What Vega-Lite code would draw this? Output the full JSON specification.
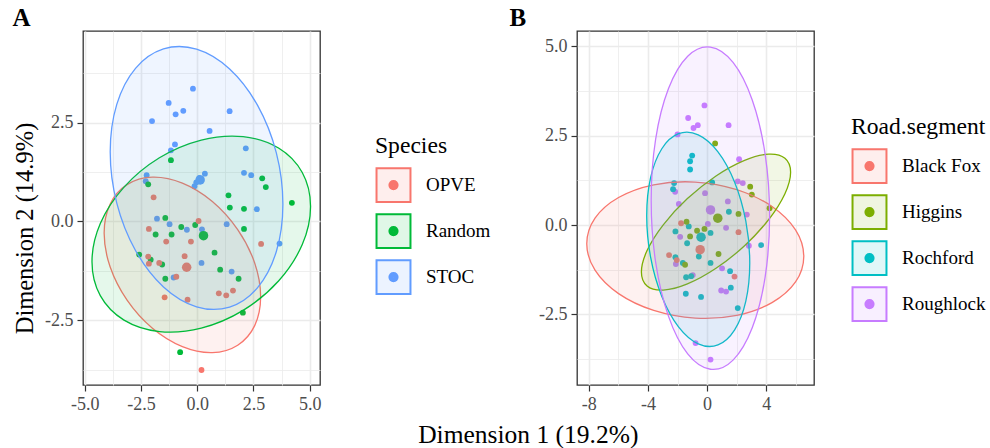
{
  "$schema": "https://vega.github.io/schema/vega-lite/v6.json",
  "background": "white",
  "padding": {"left": 11, "top": 5, "right": 0, "bottom": 0},
  "title": {"text": "Dimension 1 (19.2%)", "orient": "bottom", "anchor": "middle", "fontSize": 25.5, "font": "Liberation Serif", "fontWeight": "normal", "color": "black", "offset": 9, "dx": 29},
  "config": {
    "font": "Liberation Serif",
    "view": {"stroke": "#333333", "strokeWidth": 1.3},
    "axis": {"domain": false, "gridColor": "#EBEBEB", "tickColor": "#333333", "tickSize": 6, "tickWidth": 1.2, "labelFont": "Liberation Serif", "labelFontSize": 18, "labelColor": "#4D4D4D", "labelPadding": 4, "labelOverlap": false, "labelFlush": false, "labelBound": false, "titleFont": "Liberation Serif", "titleFontSize": 24.5, "titleFontWeight": "normal", "titleColor": "black"},
    "legend": {"padding": 0, "titleFont": "Liberation Serif", "titleFontSize": 23.6, "titleFontWeight": "normal", "titleColor": "black", "labelFont": "Liberation Serif", "labelFontSize": 19, "labelColor": "black", "labelOffset": 14, "rowPadding": 3, "titlePadding": 9, "symbolSize": 1225, "symbolStrokeWidth": 2, "symbolOpacity": 1,
      "symbolType": "M-0.97,-0.97H0.97V0.97H-0.97Z M0.234,0A0.234,0.234 0 1,1 -0.234,0A0.234,0.234 0 1,1 0.234,0Z M0.149,0A0.149,0.149 0 1,1 -0.149,0A0.149,0.149 0 1,1 0.149,0Z M0.063,0A0.063,0.063 0 1,1 -0.063,0A0.063,0.063 0 1,1 0.063,0Z"},
    "concat": {"spacing": 16}
  },
  "datasets": {
    "ptsA": [
      {"g":"STOC","d1":-0.19,"d2":3.36},{"g":"STOC","d1":-1.27,"d2":3.0},{"g":"STOC","d1":-0.96,"d2":2.71},{"g":"STOC","d1":-0.62,"d2":2.8},{"g":"STOC","d1":-2.01,"d2":2.54},{"g":"STOC","d1":1.44,"d2":2.79},{"g":"STOC","d1":0.55,"d2":2.29},{"g":"STOC","d1":-0.99,"d2":1.95},{"g":"STOC","d1":-1.17,"d2":1.8},{"g":"STOC","d1":2.16,"d2":1.85},{"g":"STOC","d1":2.08,"d2":1.23},{"g":"STOC","d1":2.4,"d2":1.17},{"g":"STOC","d1":-2.25,"d2":1.17},{"g":"STOC","d1":-2.29,"d2":1.02},{"g":"STOC","d1":0.34,"d2":1.21},{"g":"STOC","d1":-0.04,"d2":0.99},{"g":"STOC","d1":-0.12,"d2":0.89},{"g":"STOC","d1":0.1,"d2":1.1},{"g":"STOC","d1":2.65,"d2":0.31},{"g":"STOC","d1":-1.79,"d2":0.07},{"g":"STOC","d1":-1.23,"d2":-0.07},{"g":"STOC","d1":-0.46,"d2":-0.21},{"g":"STOC","d1":0.21,"d2":-0.2},{"g":"STOC","d1":1.31,"d2":-0.07},{"g":"STOC","d1":3.66,"d2":-0.56},{"g":"STOC","d1":0.19,"d2":-1.05},{"g":"STOC","d1":1.53,"d2":-1.27},{"g":"STOC","d1":-1.05,"d2":-1.42},
      {"g":"Random","d1":-1.17,"d2":1.55},{"g":"Random","d1":-2.18,"d2":0.94},{"g":"Random","d1":2.89,"d2":1.09},{"g":"Random","d1":3.05,"d2":0.87},{"g":"Random","d1":1.39,"d2":0.66},{"g":"Random","d1":1.45,"d2":0.35},{"g":"Random","d1":2.08,"d2":0.32},{"g":"Random","d1":4.21,"d2":0.47},{"g":"Random","d1":-1.42,"d2":0.09},{"g":"Random","d1":-0.71,"d2":-0.14},{"g":"Random","d1":-0.09,"d2":-0.09},{"g":"Random","d1":2.08,"d2":-0.19},{"g":"Random","d1":-1.85,"d2":-0.33},{"g":"Random","d1":-1.14,"d2":-0.33},{"g":"Random","d1":0.77,"d2":-0.79},{"g":"Random","d1":-2.58,"d2":-0.84},{"g":"Random","d1":-2.07,"d2":-0.97},{"g":"Random","d1":-1.56,"d2":-1.09},{"g":"Random","d1":1.02,"d2":-1.22},{"g":"Random","d1":-1.42,"d2":-1.45},{"g":"Random","d1":1.84,"d2":-1.45},{"g":"Random","d1":2.03,"d2":-2.31},{"g":"Random","d1":-0.76,"d2":-3.31},
      {"g":"OPVE","d1":-1.94,"d2":0.61},{"g":"OPVE","d1":0.06,"d2":0.01},{"g":"OPVE","d1":-2.15,"d2":-0.19},{"g":"OPVE","d1":-1.38,"d2":-0.51},{"g":"OPVE","d1":-0.28,"d2":-0.51},{"g":"OPVE","d1":2.84,"d2":-0.57},{"g":"OPVE","d1":-0.56,"d2":-0.88},{"g":"OPVE","d1":-2.18,"d2":-0.89},{"g":"OPVE","d1":-2.15,"d2":-1.07},{"g":"OPVE","d1":-1.69,"d2":-1.05},{"g":"OPVE","d1":-0.93,"d2":-1.4},{"g":"OPVE","d1":0.96,"d2":-1.82},{"g":"OPVE","d1":1.29,"d2":-1.87},{"g":"OPVE","d1":1.59,"d2":-1.75},{"g":"OPVE","d1":-1.45,"d2":-1.92},{"g":"OPVE","d1":-0.43,"d2":-1.98},{"g":"OPVE","d1":0.19,"d2":-3.76}
    ],
    "cenA": [
      {"g":"OPVE","d1":-0.47,"d2":-1.16},{"g":"Random","d1":0.28,"d2":-0.36},{"g":"STOC","d1":0.13,"d2":1.05}
    ],
    "ellA": [
      {"g":"OPVE","k":0,"d1":2.82,"d2":-1.905},{"g":"OPVE","k":1,"d1":2.555,"d2":-1.051},{"g":"OPVE","k":2,"d1":1.8,"d2":-0.206},{"g":"OPVE","k":3,"d1":0.673,"d2":0.505},{"g":"OPVE","k":4,"d1":-0.66,"d2":0.97},{"g":"OPVE","k":5,"d1":-1.993,"d2":1.121},{"g":"OPVE","k":6,"d1":-3.12,"d2":0.932},{"g":"OPVE","k":7,"d1":-3.875,"d2":0.437},{"g":"OPVE","k":8,"d1":-4.14,"d2":-0.295},{"g":"OPVE","k":9,"d1":-3.875,"d2":-1.149},{"g":"OPVE","k":10,"d1":-3.12,"d2":-1.994},{"g":"OPVE","k":11,"d1":-1.993,"d2":-2.705},{"g":"OPVE","k":12,"d1":-0.66,"d2":-3.17},{"g":"OPVE","k":13,"d1":0.673,"d2":-3.321},{"g":"OPVE","k":14,"d1":1.8,"d2":-3.132},{"g":"OPVE","k":15,"d1":2.555,"d2":-2.637},
      {"g":"Random","k":0,"d1":5.04,"d2":0.38},{"g":"Random","k":1,"d1":4.671,"d2":1.239},{"g":"Random","k":2,"d1":3.616,"d2":1.858},{"g":"Random","k":3,"d1":2.041,"d2":2.147},{"g":"Random","k":4,"d1":0.18,"d2":2.06},{"g":"Random","k":5,"d1":-1.681,"d2":1.611},{"g":"Random","k":6,"d1":-3.256,"d2":0.868},{"g":"Random","k":7,"d1":-4.311,"d2":-0.055},{"g":"Random","k":8,"d1":-4.68,"d2":-1.02},{"g":"Random","k":9,"d1":-4.311,"d2":-1.879},{"g":"Random","k":10,"d1":-3.256,"d2":-2.498},{"g":"Random","k":11,"d1":-1.681,"d2":-2.787},{"g":"Random","k":12,"d1":0.18,"d2":-2.7},{"g":"Random","k":13,"d1":2.041,"d2":-2.251},{"g":"Random","k":14,"d1":3.616,"d2":-1.508},{"g":"Random","k":15,"d1":4.671,"d2":-0.585},
      {"g":"STOC","k":0,"d1":3.81,"d2":0.436},{"g":"STOC","k":1,"d1":3.518,"d2":1.736},{"g":"STOC","k":2,"d1":2.685,"d2":2.936},{"g":"STOC","k":3,"d1":1.441,"d2":3.858},{"g":"STOC","k":4,"d1":-0.03,"d2":4.36},{"g":"STOC","k":5,"d1":-1.501,"d2":4.366},{"g":"STOC","k":6,"d1":-2.745,"d2":3.874},{"g":"STOC","k":7,"d1":-3.578,"d2":2.962},{"g":"STOC","k":8,"d1":-3.87,"d2":1.764},{"g":"STOC","k":9,"d1":-3.578,"d2":0.464},{"g":"STOC","k":10,"d1":-2.745,"d2":-0.736},{"g":"STOC","k":11,"d1":-1.501,"d2":-1.658},{"g":"STOC","k":12,"d1":-0.03,"d2":-2.16},{"g":"STOC","k":13,"d1":1.441,"d2":-2.166},{"g":"STOC","k":14,"d1":2.685,"d2":-1.674},{"g":"STOC","k":15,"d1":3.518,"d2":-0.762}
    ],
    "ptsB": [
      {"g":"Roughlock","d1":-0.18,"d2":3.34},{"g":"Roughlock","d1":-1.28,"d2":2.99},{"g":"Roughlock","d1":-0.63,"d2":2.79},{"g":"Roughlock","d1":-0.92,"d2":2.71},{"g":"Roughlock","d1":1.45,"d2":2.79},{"g":"Roughlock","d1":-2.0,"d2":2.53},{"g":"Roughlock","d1":2.16,"d2":1.84},{"g":"Roughlock","d1":2.07,"d2":1.22},{"g":"Roughlock","d1":2.41,"d2":1.17},{"g":"Roughlock","d1":-2.16,"d2":0.93},{"g":"Roughlock","d1":-0.14,"d2":0.89},{"g":"Roughlock","d1":1.4,"d2":0.66},{"g":"Roughlock","d1":-1.91,"d2":0.59},{"g":"Roughlock","d1":2.68,"d2":0.29},{"g":"Roughlock","d1":0.05,"d2":0.03},{"g":"Roughlock","d1":1.28,"d2":-0.08},{"g":"Roughlock","d1":-1.82,"d2":-0.33},{"g":"Roughlock","d1":2.82,"d2":-0.58},{"g":"Roughlock","d1":-2.11,"d2":-1.09},{"g":"Roughlock","d1":-0.97,"d2":-1.4},{"g":"Roughlock","d1":1.01,"d2":-1.21},{"g":"Roughlock","d1":0.95,"d2":-1.83},{"g":"Roughlock","d1":1.28,"d2":-1.86},{"g":"Roughlock","d1":-0.78,"d2":-3.3},{"g":"Roughlock","d1":0.23,"d2":-3.76},
      {"g":"Rochford","d1":-1.01,"d2":1.94},{"g":"Rochford","d1":-1.15,"d2":1.78},{"g":"Rochford","d1":-1.15,"d2":1.55},{"g":"Rochford","d1":-2.23,"d2":1.17},{"g":"Rochford","d1":-2.3,"d2":1.0},{"g":"Rochford","d1":0.34,"d2":1.19},{"g":"Rochford","d1":1.47,"d2":0.37},{"g":"Rochford","d1":-1.24,"d2":-0.04},{"g":"Rochford","d1":-2.14,"d2":-0.18},{"g":"Rochford","d1":0.23,"d2":-0.22},{"g":"Rochford","d1":-1.35,"d2":-0.51},{"g":"Rochford","d1":3.65,"d2":-0.56},{"g":"Rochford","d1":-0.56,"d2":-0.88},{"g":"Rochford","d1":0.23,"d2":-1.06},{"g":"Rochford","d1":-1.64,"d2":-1.06},{"g":"Rochford","d1":-2.14,"d2":-0.9},{"g":"Rochford","d1":1.55,"d2":-1.29},{"g":"Rochford","d1":-1.42,"d2":-1.46},{"g":"Rochford","d1":-1.08,"d2":-1.43},{"g":"Rochford","d1":1.6,"d2":-1.75},{"g":"Rochford","d1":-1.44,"d2":-1.92},{"g":"Rochford","d1":-0.41,"d2":-2.01},{"g":"Rochford","d1":2.07,"d2":-2.32},
      {"g":"Higgins","d1":0.54,"d2":2.28},{"g":"Higgins","d1":2.91,"d2":1.07},{"g":"Higgins","d1":3.02,"d2":0.85},{"g":"Higgins","d1":4.22,"d2":0.47},{"g":"Higgins","d1":-1.39,"d2":0.09},{"g":"Higgins","d1":-0.68,"d2":-0.16},{"g":"Higgins","d1":-0.18,"d2":-0.11},{"g":"Higgins","d1":-1.15,"d2":-0.32},{"g":"Higgins","d1":2.12,"d2":0.31},{"g":"Higgins","d1":0.77,"d2":-0.81},{"g":"Higgins","d1":-1.49,"d2":-1.11},
      {"g":"Black Fox","d1":-1.76,"d2":0.05},{"g":"Black Fox","d1":2.12,"d2":-0.2},{"g":"Black Fox","d1":-2.57,"d2":-0.84},{"g":"Black Fox","d1":-2.05,"d2":-0.98},{"g":"Black Fox","d1":1.85,"d2":-1.44}
    ],
    "cenB": [
      {"g":"Black Fox","d1":-0.47,"d2":-0.69},{"g":"Higgins","d1":0.72,"d2":0.19},{"g":"Rochford","d1":-0.41,"d2":-0.34},{"g":"Roughlock","d1":0.23,"d2":0.42}
    ],
    "ellB": [
      {"g":"Black Fox","k":0,"d1":6.53,"d2":-0.877},{"g":"Black Fox","k":1,"d1":5.973,"d2":-0.137},{"g":"Black Fox","k":2,"d1":4.382,"d2":0.518},{"g":"Black Fox","k":3,"d1":2.007,"d2":0.987},{"g":"Black Fox","k":4,"d1":-0.8,"d2":1.2},{"g":"Black Fox","k":5,"d1":-3.607,"d2":1.123},{"g":"Black Fox","k":6,"d1":-5.982,"d2":0.768},{"g":"Black Fox","k":7,"d1":-7.573,"d2":0.191},{"g":"Black Fox","k":8,"d1":-8.13,"d2":-0.523},{"g":"Black Fox","k":9,"d1":-7.573,"d2":-1.263},{"g":"Black Fox","k":10,"d1":-5.982,"d2":-1.918},{"g":"Black Fox","k":11,"d1":-3.607,"d2":-2.387},{"g":"Black Fox","k":12,"d1":-0.8,"d2":-2.6},{"g":"Black Fox","k":13,"d1":2.007,"d2":-2.523},{"g":"Black Fox","k":14,"d1":4.382,"d2":-2.168},{"g":"Black Fox","k":15,"d1":5.973,"d2":-1.591},
      {"g":"Higgins","k":0,"d1":5.64,"d2":1.475},{"g":"Higgins","k":1,"d1":5.257,"d2":1.863},{"g":"Higgins","k":2,"d1":4.163,"d2":1.978},{"g":"Higgins","k":3,"d1":2.53,"d2":1.806},{"g":"Higgins","k":4,"d1":0.6,"d2":1.37},{"g":"Higgins","k":5,"d1":-1.33,"d2":0.738},{"g":"Higgins","k":6,"d1":-2.963,"d2":0.006},{"g":"Higgins","k":7,"d1":-4.057,"d2":-0.715},{"g":"Higgins","k":8,"d1":-4.44,"d2":-1.315},{"g":"Higgins","k":9,"d1":-4.057,"d2":-1.703},{"g":"Higgins","k":10,"d1":-2.963,"d2":-1.818},{"g":"Higgins","k":11,"d1":-1.33,"d2":-1.646},{"g":"Higgins","k":12,"d1":0.6,"d2":-1.21},{"g":"Higgins","k":13,"d1":2.53,"d2":-0.578},{"g":"Higgins","k":14,"d1":4.163,"d2":0.154},{"g":"Higgins","k":15,"d1":5.257,"d2":0.875},
      {"g":"Rochford","k":0,"d1":2.88,"d2":-1.061},{"g":"Rochford","k":1,"d1":2.615,"d2":0.107},{"g":"Rochford","k":2,"d1":1.86,"d2":1.197},{"g":"Rochford","k":3,"d1":0.733,"d2":2.045},{"g":"Rochford","k":4,"d1":-0.6,"d2":2.52},{"g":"Rochford","k":5,"d1":-1.933,"d2":2.551},{"g":"Rochford","k":6,"d1":-3.06,"d2":2.131},{"g":"Rochford","k":7,"d1":-3.815,"d2":1.329},{"g":"Rochford","k":8,"d1":-4.08,"d2":0.261},{"g":"Rochford","k":9,"d1":-3.815,"d2":-0.907},{"g":"Rochford","k":10,"d1":-3.06,"d2":-1.997},{"g":"Rochford","k":11,"d1":-1.933,"d2":-2.845},{"g":"Rochford","k":12,"d1":-0.6,"d2":-3.32},{"g":"Rochford","k":13,"d1":0.733,"d2":-3.351},{"g":"Rochford","k":14,"d1":1.86,"d2":-2.931},{"g":"Rochford","k":15,"d1":2.615,"d2":-2.129},
      {"g":"Roughlock","k":0,"d1":4.22,"d2":0.245},{"g":"Roughlock","k":1,"d1":3.916,"d2":1.986},{"g":"Roughlock","k":2,"d1":3.048,"d2":3.493},{"g":"Roughlock","k":3,"d1":1.752,"d2":4.542},{"g":"Roughlock","k":4,"d1":0.22,"d2":4.97},{"g":"Roughlock","k":5,"d1":-1.312,"d2":4.714},{"g":"Roughlock","k":6,"d1":-2.608,"d2":3.811},{"g":"Roughlock","k":7,"d1":-3.476,"d2":2.402},{"g":"Roughlock","k":8,"d1":-3.78,"d2":0.695},{"g":"Roughlock","k":9,"d1":-3.476,"d2":-1.046},{"g":"Roughlock","k":10,"d1":-2.608,"d2":-2.553},{"g":"Roughlock","k":11,"d1":-1.312,"d2":-3.602},{"g":"Roughlock","k":12,"d1":0.22,"d2":-4.03},{"g":"Roughlock","k":13,"d1":1.752,"d2":-3.774},{"g":"Roughlock","k":14,"d1":3.048,"d2":-2.871},{"g":"Roughlock","k":15,"d1":3.916,"d2":-1.462}
    ]
  },
  "hconcat": [
    {
      "title": {"text": "A", "anchor": "start", "frame": "bounds", "fontSize": 25, "fontWeight": "bold", "font": "Liberation Serif", "color": "black", "offset": 0},
      "width": 237,
      "height": 354,
      "encoding": {
        "x": {"field": "d1", "type": "quantitative", "scale": {"domain": [-5.08, 5.46], "nice": false, "zero": false},
          "axis": {"title": null, "values": [-5, -3.75, -2.5, -1.25, 0, 1.25, 2.5, 3.75, 5],
            "labelExpr": "datum.value % 2.5 !== 0 ? '' : replace(format(datum.value, '.1f'), '\u2212', '-')",
            "tickOpacity": {"condition": {"test": "datum.value % 2.5 !== 0", "value": 0}, "value": 1},
            "gridWidth": {"condition": {"test": "datum.value % 2.5 !== 0", "value": 0.8}, "value": 1.6}}},
        "y": {"field": "d2", "type": "quantitative", "scale": {"domain": [-4.14, 4.82], "nice": false, "zero": false},
          "axis": {"title": "Dimension 2 (14.9%)", "titleY": 197, "titlePadding": 7, "values": [-3.75, -2.5, -1.25, 0, 1.25, 2.5, 3.75],
            "labelExpr": "datum.value % 2.5 !== 0 ? '' : replace(format(datum.value, '.1f'), '\u2212', '-')",
            "tickOpacity": {"condition": {"test": "datum.value % 2.5 !== 0", "value": 0}, "value": 1},
            "gridWidth": {"condition": {"test": "datum.value % 2.5 !== 0", "value": 0.8}, "value": 1.6}}}
      },
      "layer": [
        {"data": {"name": "ptsA"}, "mark": {"type": "circle", "size": 34, "opacity": 1},
          "encoding": {"fill": {"field": "g", "type": "nominal", "scale": {"domain": ["OPVE", "Random", "STOC"], "range": ["#F8766D", "#00BA38", "#619CFF"]},
            "legend": {"title": "Species", "orient": "none", "legendX": 292, "legendY": 103, "encode": {"symbols": {"update": {"fillOpacity": {"value": 0.12}, "strokeOpacity": {"value": 1}}}}}}}},
        {"data": {"name": "cenA"}, "mark": {"type": "circle", "size": 90, "opacity": 1},
          "encoding": {"fill": {"field": "g", "type": "nominal"}}},
        {"data": {"name": "ellA"}, "mark": {"type": "line", "interpolate": "cardinal-closed", "strokeWidth": 1.3, "fillOpacity": 0.1},
          "encoding": {"stroke": {"field": "g", "type": "nominal", "scale": {"domain": ["OPVE", "Random", "STOC"], "range": ["#F8766D", "#00BA38", "#619CFF"]},
            "legend": {"title": "Species", "orient": "none", "legendX": 292, "legendY": 103, "encode": {"symbols": {"update": {"fillOpacity": {"value": 0.12}, "strokeOpacity": {"value": 1}}}}}},
            "fill": {"field": "g", "type": "nominal"}, "order": {"field": "k", "type": "quantitative"}}},
        {"mark": {"type": "rule", "color": "black", "strokeWidth": 1.5, "strokeDash": [7, 5]}, "encoding": {"x": {"datum": 0}}},
        {"mark": {"type": "rule", "color": "black", "strokeWidth": 1.5, "strokeDash": [7, 5]}, "encoding": {"y": {"datum": 0}}}
      ]
    },
    {
      "title": {"text": "B", "anchor": "start", "frame": "bounds", "fontSize": 25, "fontWeight": "bold", "font": "Liberation Serif", "color": "black", "offset": 0, "dx": -29},
      "width": 237,
      "height": 354,
      "encoding": {
        "x": {"field": "d1", "type": "quantitative", "scale": {"domain": [-8.79, 7.22], "nice": false, "zero": false},
          "axis": {"title": null, "values": [-8, -6, -4, -2, 0, 2, 4, 6],
            "labelExpr": "datum.value % 4 !== 0 ? '' : replace(format(datum.value, 'd'), '\u2212', '-')",
            "tickOpacity": {"condition": {"test": "datum.value % 4 !== 0", "value": 0}, "value": 1},
            "gridWidth": {"condition": {"test": "datum.value % 4 !== 0", "value": 0.8}, "value": 1.6}}},
        "y": {"field": "d2", "type": "quantitative", "scale": {"domain": [-4.47, 5.42], "nice": false, "zero": false},
          "axis": {"title": null, "values": [-3.75, -2.5, -1.25, 0, 1.25, 2.5, 3.75, 5],
            "labelExpr": "datum.value % 2.5 !== 0 ? '' : replace(format(datum.value, '.1f'), '\u2212', '-')",
            "tickOpacity": {"condition": {"test": "datum.value % 2.5 !== 0", "value": 0}, "value": 1},
            "gridWidth": {"condition": {"test": "datum.value % 2.5 !== 0", "value": 0.8}, "value": 1.6}}}
      },
      "layer": [
        {"data": {"name": "ptsB"}, "mark": {"type": "circle", "size": 34, "opacity": 1},
          "encoding": {"fill": {"field": "g", "type": "nominal", "scale": {"domain": ["Black Fox", "Higgins", "Rochford", "Roughlock"], "range": ["#F8766D", "#7CAE00", "#00BFC4", "#C77CFF"]},
            "legend": {"title": "Road.segment", "orient": "none", "legendX": 274, "legendY": 84, "encode": {"symbols": {"update": {"fillOpacity": {"value": 0.12}, "strokeOpacity": {"value": 1}}}}}}}},
        {"data": {"name": "cenB"}, "mark": {"type": "circle", "size": 90, "opacity": 1},
          "encoding": {"fill": {"field": "g", "type": "nominal"}}},
        {"data": {"name": "ellB"}, "mark": {"type": "line", "interpolate": "cardinal-closed", "strokeWidth": 1.3, "fillOpacity": 0.1},
          "encoding": {"stroke": {"field": "g", "type": "nominal", "scale": {"domain": ["Black Fox", "Higgins", "Rochford", "Roughlock"], "range": ["#F8766D", "#7CAE00", "#00BFC4", "#C77CFF"]},
            "legend": {"title": "Road.segment", "orient": "none", "legendX": 274, "legendY": 84, "encode": {"symbols": {"update": {"fillOpacity": {"value": 0.12}, "strokeOpacity": {"value": 1}}}}}},
            "fill": {"field": "g", "type": "nominal"}, "order": {"field": "k", "type": "quantitative"}}},
        {"mark": {"type": "rule", "color": "black", "strokeWidth": 1.5, "strokeDash": [7, 5]}, "encoding": {"x": {"datum": 0}}},
        {"mark": {"type": "rule", "color": "black", "strokeWidth": 1.5, "strokeDash": [7, 5]}, "encoding": {"y": {"datum": 0}}}
      ]
    }
  ],
  "resolve": {"scale": {"fill": "independent", "stroke": "independent"}, "legend": {"fill": "independent", "stroke": "independent"}}
}
